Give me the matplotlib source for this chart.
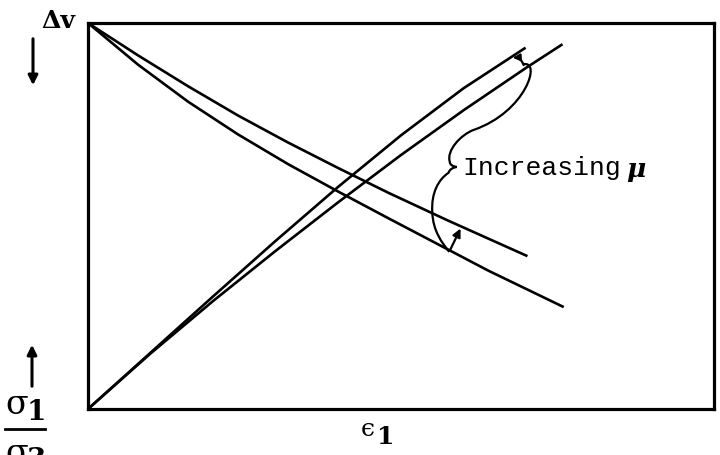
import matplotlib
matplotlib.use("Agg")
import matplotlib.pyplot as plt
from matplotlib.path import Path
from matplotlib.patches import PathPatch, FancyArrowPatch

# axial strain vs. principal stress ratio (two friction values)
strain_a = [0, 0.1, 0.2, 0.3, 0.4, 0.5, 0.6, 0.699]
ratio_a = [0, 0.146, 0.292, 0.436, 0.576, 0.709, 0.831, 0.936]
strain_b = [0, 0.1, 0.2, 0.3, 0.4, 0.5, 0.6, 0.7, 0.758]
ratio_b = [0, 0.144, 0.280, 0.410, 0.536, 0.658, 0.774, 0.884, 0.945]

# axial strain vs. volume change (same two friction values)
strain_c = [0, 0.08, 0.16, 0.24, 0.32, 0.40, 0.48, 0.574, 0.702]
dv_c = [1, 0.916, 0.836, 0.760, 0.690, 0.624, 0.560, 0.489, 0.396]
strain_d = [0, 0.08, 0.16, 0.24, 0.32, 0.40, 0.48, 0.56, 0.64, 0.76]
dv_d = [1, 0.892, 0.796, 0.711, 0.634, 0.563, 0.494, 0.426, 0.358, 0.264]

fig = plt.figure(figsize=(7.2, 4.55), dpi=100)
ax = fig.add_axes([88 / 720, 46 / 455, 626 / 720, 386 / 455])
ax.set_xlim(0, 1)
ax.set_ylim(0, 1)
ax.set_xticks([])
ax.set_yticks([])
for s in ax.spines.values():
    s.set_linewidth(2.3)

lw = 1.9
for xs, ys in [(strain_a, ratio_a), (strain_b, ratio_b),
               (strain_c, dv_c), (strain_d, dv_d)]:
    ax.plot(xs, ys, color="black", lw=lw, solid_capstyle="butt",
            solid_joinstyle="round")

# brace linking the two arrows to the label
verts = [
    (0.695, 0.893),
    (0.725, 0.905), (0.700, 0.770), (0.616, 0.723),
    (0.596, 0.711), (0.572, 0.670), (0.578, 0.640),
    (0.578, 0.630), (0.589, 0.627),
    (0.578, 0.624), (0.576, 0.612),
    (0.560, 0.595), (0.548, 0.560), (0.550, 0.510),
    (0.551, 0.460), (0.566, 0.430), (0.577, 0.407),
]
codes = ([Path.MOVETO] + [Path.CURVE4] * 6 + [Path.CURVE3] * 4
         + [Path.CURVE4] * 6)
ax.add_patch(PathPatch(Path(verts, codes), fill=False, lw=1.6,
                       edgecolor="black"))

ax.annotate("", xy=(0.674, 0.909), xytext=(0.697, 0.884),
            arrowprops=dict(arrowstyle="-|>", color="black", lw=1.6,
                            mutation_scale=10,
                            connectionstyle="arc3,rad=0.5"))
ax.annotate("", xy=(0.597, 0.474), xytext=(0.577, 0.407),
            arrowprops=dict(arrowstyle="-|>", color="black", lw=1.6,
                            mutation_scale=12))

ax.text(0.598, 0.624, "Increasing", family="Liberation Mono", fontsize=19,
        va="center", ha="left")
ax.text(0.860, 0.620, "μ", family="DejaVu Serif", fontsize=19,
        fontweight="bold", style="italic", va="center", ha="left")

# axis labels with direction arrows
fig.text(58 / 720, 1 - 21 / 455, "Δv", family="DejaVu Serif",
         fontweight="bold", fontsize=18, ha="center", va="center")
fig.add_artist(FancyArrowPatch(
    (33 / 720, 1 - 36 / 455), (33 / 720, 1 - 88 / 455),
    transform=fig.transFigure, arrowstyle="-|>", mutation_scale=14,
    lw=2.2, color="black"))
fig.add_artist(FancyArrowPatch(
    (32 / 720, 1 - 389 / 455), (32 / 720, 1 - 342 / 455),
    transform=fig.transFigure, arrowstyle="-|>", mutation_scale=14,
    lw=2.2, color="black"))

fig.text(17 / 720, 1 - 405 / 455, "σ", family="DejaVu Serif", fontsize=24,
         ha="center", va="center")
fig.text(36 / 720, 1 - 412 / 455, "1", family="DejaVu Serif", fontsize=20,
         fontweight="bold", ha="center", va="center")
fig.add_artist(plt.Line2D([5 / 720, 45 / 720], [1 - 429 / 455] * 2,
                          transform=fig.transFigure, lw=2.0, color="black"))
fig.text(17 / 720, 1 - 454 / 455, "σ", family="DejaVu Serif", fontsize=24,
         ha="center", va="center")
fig.text(36 / 720, 1 - 461 / 455, "3", family="DejaVu Serif", fontsize=20,
         fontweight="bold", ha="center", va="center")

fig.text(368 / 720, 1 - 430 / 455, "ϵ", family="DejaVu Serif", fontsize=18,
         ha="center", va="center")
fig.text(386 / 720, 1 - 437 / 455, "1", family="DejaVu Serif", fontsize=18,
         fontweight="bold", ha="center", va="center")

fig.savefig("out.png", dpi=100)
